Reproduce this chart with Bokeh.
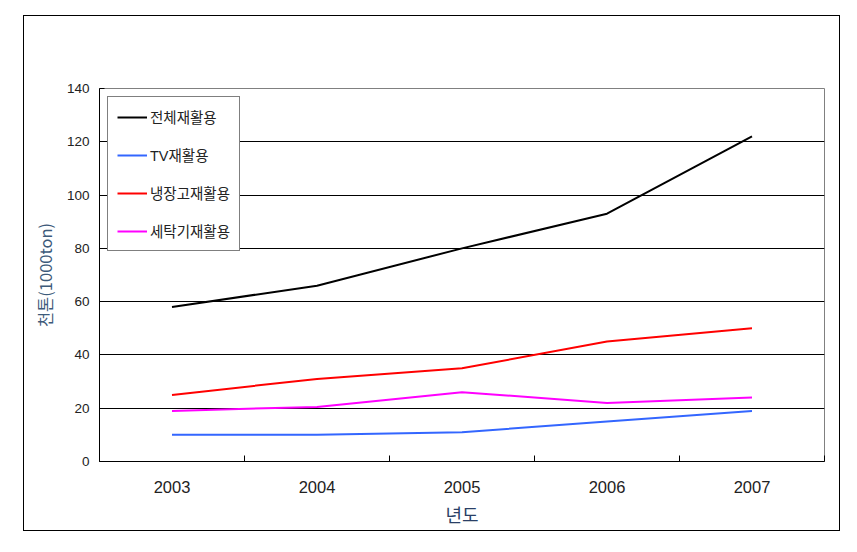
from bokeh.plotting import figure
from bokeh.models import FixedTicker, Legend, LegendItem, Range1d
from bokeh.embed import file_html
from bokeh.resources import INLINE

years = [2003, 2004, 2005, 2006, 2007]
total = [58, 66, 80, 93, 122]
tv = [10, 10, 11, 15, 19]
fridge = [25, 31, 35, 45, 50]
washer = [19, 20.5, 26, 22, 24]
names = ["전체재활용", "TV재활용", "냉장고재활용", "세탁기재활용"]
colors = ["#000000", "#3366ff", "#ff0000", "#ff00ff"]
y_ticks = [0, 20, 40, 60, 80, 100, 120, 140]
bounds = [2002.5, 2003.5, 2004.5, 2005.5, 2006.5, 2007.5]

FONT = "Liberation Sans, Noto Sans CJK KR"

p = figure(width=817, height=516, output_backend="svg", toolbar_location=None,
           x_range=Range1d(2002.5, 2007.5), y_range=Range1d(0, 140),
           min_border_left=75, min_border_top=72, min_border_right=17, min_border_bottom=71)
p.styles = {"border": "1px solid black"}
p.margin = (15, 0, 0, 23)

p.outline_line_color = "#808080"
p.outline_line_width = 1
p.xgrid.visible = False
p.ygrid.grid_line_color = "black"
p.ygrid.grid_line_width = 1
p.ygrid.ticker = FixedTicker(ticks=y_ticks)

xa = p.xaxis[0]
xa.ticker = FixedTicker(ticks=years, minor_ticks=bounds)
xa.major_tick_in = 0
xa.major_tick_out = 0
xa.minor_tick_in = 6
xa.minor_tick_out = 0
xa.minor_tick_line_color = "black"
xa.axis_line_color = "black"
xa.major_label_standoff = 19
xa.major_label_text_font = FONT
xa.major_label_text_font_size = "16.5px"
xa.major_label_text_color = "#222222"
xa.axis_label = "년도"
xa.axis_label_text_font = "Noto Sans CJK KR"
xa.axis_label_text_font_style = "normal"
xa.axis_label_text_font_size = "18px"
xa.axis_label_text_color = "#2a3f66"
xa.axis_label_standoff = 5

ya = p.yaxis[0]
ya.ticker = FixedTicker(ticks=y_ticks)
ya.major_tick_in = 5
ya.major_tick_out = 0
ya.minor_tick_line_color = None
ya.axis_line_color = "black"
ya.major_label_standoff = 10
ya.major_label_text_font = FONT
ya.major_label_text_font_size = "13.5px"
ya.major_label_text_color = "#222222"
ya.axis_label = "천톤(1000ton)"
ya.axis_label_text_font = "Noto Sans CJK KR"
ya.axis_label_text_font_style = "normal"
ya.axis_label_text_font_size = "16.5px"
ya.axis_label_text_color = "#3d5a7a"
ya.axis_label_standoff = 7

items = []
for name, vals, c in zip(names, [total, tv, fridge, washer], colors):
    r = p.line(years, vals, line_color=c, line_width=2)
    items.append(LegendItem(label=name, renderers=[r]))

leg = Legend(items=items, location="top_left", margin=8, padding=9,
             spacing=17, glyph_height=20, glyph_width=30, label_height=20,
             label_standoff=3, label_text_font=FONT, label_text_font_size="14.5px",
             label_text_color="#222222", border_line_color="black",
             border_line_width=1, background_fill_alpha=1)
p.add_layout(leg)

open("out.html", "w").write(file_html(p, INLINE))
